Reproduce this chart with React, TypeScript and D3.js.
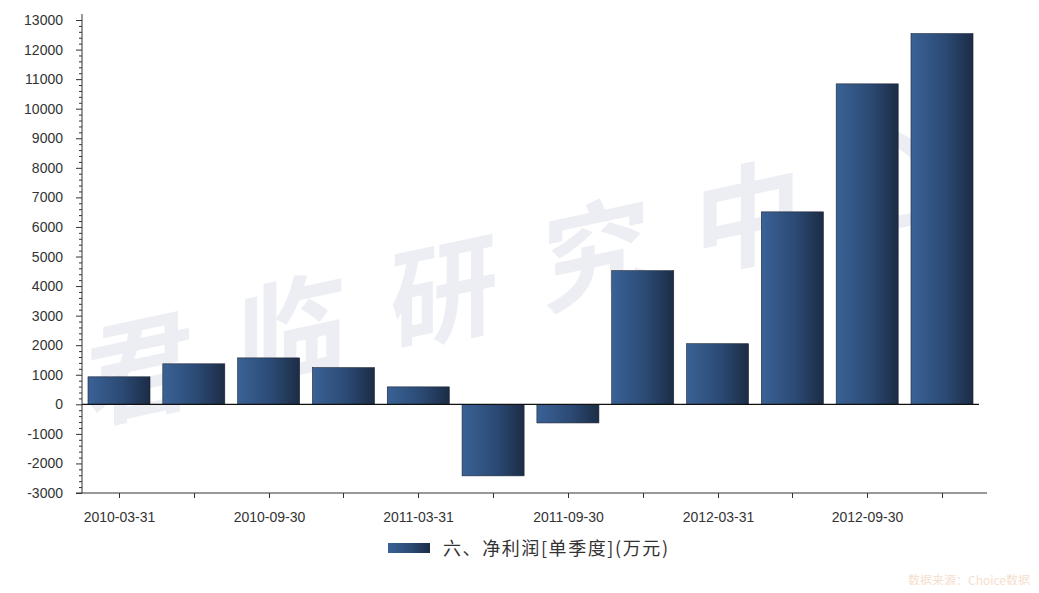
import React, { useEffect, useRef } from "react";
import * as d3 from "d3";

// quarterly net profit, 10k CNY
const quarters = [
  "2010-03-31", "2010-06-30", "2010-09-30", "2010-12-31",
  "2011-03-31", "2011-06-30", "2011-09-30", "2011-12-31",
  "2012-03-31", "2012-06-30", "2012-09-30", "2012-12-31",
];
const profit = [930, 1370, 1570, 1240, 590, -2420, -630, 4520, 2050, 6510, 10840, 12540];
const yTicks = [-3000, -2000, -1000, 0, 1000, 2000, 3000, 4000, 5000, 6000, 7000, 8000, 9000, 10000, 11000, 12000, 13000];
const seriesName = "六、净利润[单季度](万元)";
const watermark = ["君", "临", "研", "究", "中", "心"];

export default function App() {
  const ref = useRef<SVGSVGElement>(null);

  useEffect(() => {
    const w = 1039, h = 593;
    const left = 82, right = 979, axisEnd = 987, top = 20, bottom = 493;
    const svg = d3.select(ref.current);
    svg.selectAll("*").remove();
    svg.attr("width", w).attr("height", h);

    const defs = svg.append("defs");
    const grad = defs.append("linearGradient").attr("id", "barGrad")
      .attr("x1", "0%").attr("x2", "100%").attr("y1", "0%").attr("y2", "0%");
    grad.append("stop").attr("offset", "0%").attr("stop-color", "#3a6296");
    grad.append("stop").attr("offset", "55%").attr("stop-color", "#2b4a74");
    grad.append("stop").attr("offset", "100%").attr("stop-color", "#1c2c45");

    svg.append("rect").attr("width", w).attr("height", h).attr("fill", "#fff");

    // faint watermark
    const wm = svg.append("g").attr("fill", "#eceef4")
      .attr("font-family", "'Noto Sans CJK SC', sans-serif")
      .attr("font-weight", "bold").attr("font-size", 110);
    watermark.forEach((c, i) => {
      const cx = 140 + i * 152, cy = 410 - i * 38;
      wm.append("text").attr("x", 0).attr("y", 0)
        .attr("text-anchor", "middle")
        .attr("transform", `translate(${cx},${cy}) rotate(-12) skewX(-12)`)
        .text(c);
    });

    const x = d3.scaleBand().domain(quarters).range([left, right]).paddingInner(0.171).paddingOuter(0.08);
    const y = d3.scaleLinear().domain([-3000, 13000]).range([bottom, top]);

    // bars
    svg.append("g").selectAll("rect").data(profit).join("rect")
      .attr("x", (d, i) => x(quarters[i])!)
      .attr("width", x.bandwidth())
      .attr("y", d => y(Math.max(0, d)))
      .attr("height", d => Math.abs(y(d) - y(0)))
      .attr("fill", "url(#barGrad)")
      .attr("stroke", "#1a2436").attr("stroke-width", 0.6);

    // zero line
    svg.append("line").attr("x1", left).attr("x2", axisEnd - 8)
      .attr("y1", y(0)).attr("y2", y(0))
      .attr("stroke", "#111").attr("stroke-width", 1.2);

    // y axis with minor ticks
    const yAxis = svg.append("g").attr("font-family", "Arial, 'Liberation Sans', sans-serif");
    yAxis.append("line").attr("x1", left).attr("x2", left).attr("y1", top - 6).attr("y2", bottom)
      .attr("stroke", "#333");
    d3.range(-3000, 13001, 200).forEach(v => {
      const major = v % 1000 === 0;
      yAxis.append("line").attr("x1", left - (major ? 6 : 3)).attr("x2", left)
        .attr("y1", y(v) + 0.5).attr("y2", y(v) + 0.5).attr("stroke", "#333");
    });
    yAxis.selectAll("text").data(yTicks).join("text")
      .attr("x", left - 19).attr("y", d => y(d) + 5)
      .attr("text-anchor", "end").attr("font-size", 14).attr("fill", "#333")
      .text(d => String(d));

    // x axis
    const xAxis = svg.append("g").attr("font-family", "Arial, 'Liberation Sans', sans-serif");
    xAxis.append("line").attr("x1", left - 6).attr("x2", axisEnd).attr("y1", bottom).attr("y2", bottom)
      .attr("stroke", "#333");
    quarters.forEach((q, i) => {
      const cx = Math.round(x(q)! + x.bandwidth() / 2) + 0.5;
      xAxis.append("line").attr("x1", cx).attr("x2", cx).attr("y1", bottom).attr("y2", bottom + 5)
        .attr("stroke", "#333");
      if (i % 2 === 0) {
        xAxis.append("text").attr("x", cx).attr("y", bottom + 29)
          .attr("text-anchor", "middle").attr("font-size", 14).attr("fill", "#333").text(q);
      }
    });

    // legend
    const lg = svg.append("g");
    lg.append("rect").attr("x", 388).attr("y", 543).attr("width", 42).attr("height", 10)
      .attr("fill", "url(#barGrad)");
    lg.append("text").attr("x", 443).attr("y", 555)
      .attr("font-family", "'Noto Sans CJK SC', sans-serif").attr("font-size", 18).attr("fill", "#333")
      .attr("textLength", 225).attr("lengthAdjust", "spacing")
      .text(seriesName);

    // source note
    svg.append("text").attr("x", 1030).attr("y", 585).attr("text-anchor", "end")
      .attr("font-family", "'Noto Sans CJK SC', sans-serif").attr("font-size", 12)
      .attr("fill", "#f5e0cf").text("数据来源：Choice数据");
  }, []);

  return (
    <div style={{ margin: -8 }}>
      <svg ref={ref} style={{ display: "block" }} />
    </div>
  );
}
